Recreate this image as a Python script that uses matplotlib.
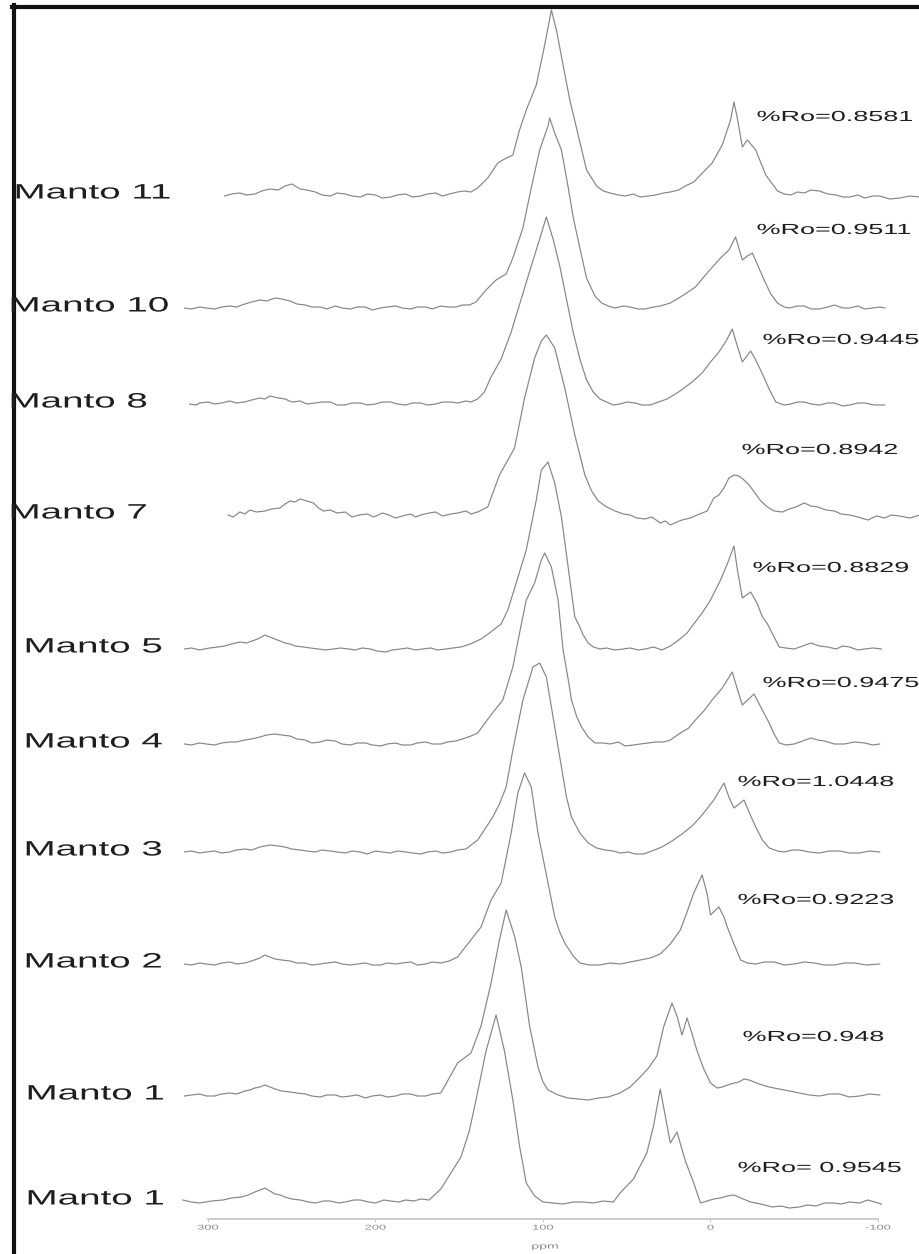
import matplotlib
matplotlib.use("Agg")
import matplotlib.pyplot as plt
from matplotlib.lines import Line2D
from matplotlib.patheffects import AbstractPathEffect
from matplotlib.transforms import Affine2D

# Образцы сверху вниз
SAMPLES = ["Manto 11", "Manto 10", "Manto 8", "Manto 7", "Manto 5",
           "Manto 4", "Manto 3", "Manto 2", "Manto 1", "Manto 1"]
RO_LABELS = ["%Ro=0.8581", "%Ro=0.9511", "%Ro=0.9445", "%Ro=0.8942",
             "%Ro=0.8829", "%Ro=0.9475", "%Ro=1.0448", "%Ro=0.9223",
             "%Ro=0.948", "%Ro= 0.9545"]

X_TICKS = [300, 200, 100, 0, -100]
X_TICK_LABELS = ["300", "200", "100", "0", "-100"]

# Спектры: пары (хим. сдвиг ppm, интенсивность отн. ед.)
PTS_M11 = [(290, -1), (286, 1), (281, 2), (277, 0), (272, 1), (268, 4), (263, 6),
           (258, 5), (254, 9), (250, 11), (245, 6), (241, 5), (236, 3), (232, 0),
           (227, -1), (223, 2), (218, 1), (214, -1), (209, -2), (205, 1), (200, 0),
           (196, -3), (191, -2), (187, 0), (182, 1), (178, -2), (173, -1), (169, 1),
           (164, 2), (160, -1), (156, 1), (151, 3), (147, 4), (143, 3), (139, 7),
           (133, 17), (127, 32), (123, 36), (118, 40), (114, 65), (110, 85),
           (104, 110), (99, 150), (95, 185), (92, 165), (88, 130), (84, 95),
           (79, 60), (74, 25), (68, 9), (64, 4), (60, 2), (55, 0), (51, -1),
           (46, 1), (42, -2), (37, -1), (33, 0), (28, 2), (24, 3), (19, 5), (15, 9),
           (10, 13), (6, 20), (-1, 32), (-7, 50), (-12, 75), (-14, 93), (-16, 77),
           (-19, 48), (-22, 55), (-27, 45), (-33, 20), (-40, 4), (-44, 1), (-48, 0),
           (-52, 3), (-56, 2), (-60, 5), (-65, 4), (-70, 1), (-75, 0), (-79, -2),
           (-83, -2), (-88, 0), (-92, -3), (-97, -1), (-101, -1), (-107, -4),
           (-113, -3), (-119, -1), (-125, -2)]

PTS_M10 = [(314, 0), (310, -1), (305, 1), (301, 0), (296, -1), (292, 1), (287, 2),
           (283, 1), (278, 4), (274, 6), (269, 8), (265, 7), (260, 10), (256, 9),
           (251, 7), (247, 4), (242, 3), (238, 1), (233, 1), (229, -1), (224, 2),
           (220, 0), (215, -1), (211, 1), (206, 1), (202, -2), (197, 0), (193, 1),
           (188, 2), (184, 0), (179, -1), (175, 1), (170, 1), (166, -1), (161, 2),
           (157, 1), (152, 1), (148, 3), (144, 3), (140, 6), (134, 18), (128, 28),
           (122, 34), (118, 50), (112, 80), (107, 120), (102, 158), (97, 182),
           (96, 190), (93, 175), (89, 158), (85, 121), (82, 91), (78, 60), (74, 30),
           (69, 12), (65, 5), (61, 2), (57, 0), (52, 2), (48, 1), (43, -1), (39, -1),
           (34, 1), (30, 2), (24, 5), (16, 13), (9, 21), (2, 35), (-6, 50), (-11, 58),
           (-15, 71), (-19, 48), (-22, 52), (-25, 55), (-32, 28), (-36, 14),
           (-40, 5), (-44, 1), (-47, 0), (-52, 2), (-56, 2), (-60, -1), (-65, -1),
           (-70, 1), (-74, 3), (-79, 0), (-83, 0), (-88, 2), (-92, -1), (-97, 0),
           (-101, 1), (-104, 0)]

PTS_M8 = [(311, 0), (307, -1), (305, 1), (300, 2), (296, 0), (292, 1), (287, 3),
          (283, 1), (278, 2), (274, 4), (269, 6), (266, 5), (263, 8), (258, 6),
          (254, 5), (250, 2), (245, 3), (241, 0), (236, 1), (232, 2), (227, 2),
          (223, -1), (218, -1), (214, 1), (209, 1), (205, -1), (200, 0), (196, 2),
          (191, 2), (187, 0), (182, -1), (178, 1), (173, 1), (169, -1), (164, 0),
          (160, 2), (155, 2), (151, 1), (146, 3), (143, 2), (139, 5), (135, 12),
          (131, 27), (125, 45), (119, 72), (113, 105), (107, 138), (102, 165),
          (98, 187), (94, 165), (90, 138), (86, 105), (82, 72), (78, 45), (74, 24),
          (70, 12), (66, 5), (62, 2), (58, -1), (54, 0), (50, 2), (45, 1), (41, -1),
          (36, -1), (31, 2), (26, 5), (19, 12), (11, 22), (5, 31), (0, 42),
          (-5, 52), (-9, 62), (-13, 75), (-16, 58), (-19, 42), (-24, 53), (-27, 44),
          (-31, 30), (-35, 15), (-39, 2), (-44, -1), (-48, 0), (-52, 2), (-56, 2),
          (-60, 0), (-65, -1), (-70, 1), (-74, 1), (-79, -2), (-83, -1), (-88, 1),
          (-92, 1), (-98, -1), (-104, -1)]

PTS_M7 = [(288, 0), (285, -2), (281, 3), (278, 1), (275, 5), (271, 3), (266, 4),
          (262, 6), (257, 7), (254, 11), (251, 14), (248, 13), (245, 16), (241, 14),
          (237, 12), (234, 7), (231, 4), (227, 5), (223, 2), (218, 3), (214, -2),
          (210, 0), (205, 1), (201, -2), (196, 2), (192, 0), (188, -3), (184, -1),
          (179, 1), (176, -2), (173, 0), (168, 2), (164, 3), (160, -1), (155, 1),
          (151, 2), (146, 4), (143, 1), (139, 3), (133, 8), (126, 40), (117, 67),
          (111, 117), (105, 157), (101, 174), (98, 180), (93, 167), (87, 127),
          (81, 80), (75, 40), (71, 24), (67, 14), (62, 8), (57, 4), (52, 1), (48, 0),
          (44, -3), (39, -4), (35, -2), (30, -8), (27, -6), (24, -10), (20, -7),
          (17, -5), (12, -3), (8, 0), (2, 4), (-2, 17), (-5, 20), (-8, 27),
          (-11, 37), (-14, 40), (-17, 39), (-20, 35), (-23, 30), (-27, 21),
          (-30, 14), (-34, 8), (-38, 4), (-43, 3), (-47, 6), (-51, 8), (-56, 12),
          (-60, 9), (-64, 8), (-69, 5), (-74, 4), (-78, 1), (-83, 0), (-88, -2),
          (-94, -5), (-99, -1), (-104, -3), (-108, 0), (-113, -1), (-119, -3),
          (-125, 0)]

PTS_M5 = [(314, 0), (310, 1), (305, -1), (302, 0), (299, 1), (294, 2), (290, 3),
          (286, 5), (281, 7), (277, 6), (272, 9), (269, 11), (266, 14), (263, 12),
          (260, 10), (257, 8), (254, 6), (251, 5), (248, 3), (243, 2), (239, 1),
          (234, 0), (230, -1), (225, 0), (221, 1), (216, 0), (212, -1), (208, 1),
          (203, 0), (199, -2), (194, -3), (190, -1), (185, 0), (181, 1), (176, -1),
          (172, 0), (167, 1), (163, -1), (158, 0), (154, 1), (149, 2), (145, 4),
          (142, 6), (137, 10), (132, 16), (125, 25), (121, 39), (116, 66),
          (110, 99), (104, 149), (101, 179), (97, 187), (93, 166), (89, 132),
          (85, 82), (81, 32), (78, 22), (76, 14), (73, 6), (70, 2), (66, 0), (62, 1),
          (57, -1), (52, 0), (48, 1), (43, -1), (39, 0), (34, 2), (29, -1), (24, 3),
          (19, 9), (14, 16), (10, 25), (5, 36), (0, 49), (-6, 69), (-10, 85),
          (-14, 103), (-16, 80), (-19, 51), (-24, 57), (-28, 45), (-31, 32),
          (-34, 25), (-38, 12), (-41, 2), (-45, 1), (-50, 0), (-55, 3), (-60, 6),
          (-65, 3), (-70, 2), (-75, 0), (-79, 3), (-83, 2), (-88, -1), (-92, 0),
          (-97, 1), (-102, 0)]

PTS_M4 = [(314, 0), (310, -1), (305, 1), (301, 0), (296, -1), (292, 1), (287, 2),
          (283, 2), (278, 4), (274, 5), (269, 7), (265, 9), (260, 10), (256, 9),
          (251, 8), (247, 5), (242, 4), (238, 1), (233, 2), (229, 4), (224, 3),
          (220, 0), (215, -1), (211, 1), (206, 1), (202, -1), (197, -2), (193, 0),
          (188, 1), (184, -1), (179, -1), (175, 1), (170, 2), (166, 0), (161, 0),
          (157, 2), (152, 3), (148, 5), (143, 8), (139, 11), (132, 27), (124, 44),
          (118, 77), (114, 111), (110, 144), (105, 161), (101, 184), (99, 191),
          (95, 177), (91, 144), (88, 94), (85, 65), (83, 44), (80, 28), (77, 17),
          (73, 7), (69, 1), (64, 1), (60, 0), (55, 2), (51, -2), (46, -1), (42, 0),
          (37, 1), (33, 2), (28, 2), (24, 4), (18, 11), (13, 16), (9, 24), (4, 33),
          (-1, 44), (-7, 56), (-13, 72), (-16, 55), (-19, 39), (-26, 50),
          (-30, 37), (-35, 21), (-38, 10), (-41, 1), (-45, -1), (-50, 0), (-55, 3),
          (-60, 6), (-64, 4), (-68, 3), (-74, 0), (-80, 0), (-86, 2), (-92, 1),
          (-97, -1), (-101, 0)]

PTS_M3 = [(314, 0), (310, 1), (305, -1), (301, 0), (296, 1), (292, -1), (287, 0),
          (283, 2), (278, 3), (274, 2), (269, 5), (266, 6), (263, 7), (258, 6),
          (254, 5), (250, 3), (245, 2), (241, 1), (236, 0), (232, 2), (227, 1),
          (223, 0), (218, -1), (214, 1), (209, 0), (205, -2), (200, 1), (196, 0),
          (191, -1), (187, 1), (182, 0), (178, -1), (173, -2), (169, 0), (164, 1),
          (160, -1), (155, 0), (151, 2), (146, 3), (139, 12), (135, 22), (130, 35),
          (126, 48), (122, 65), (118, 102), (112, 152), (106, 185), (102, 189),
          (98, 175), (94, 135), (89, 85), (86, 55), (83, 35), (78, 19), (73, 9),
          (68, 4), (63, 2), (58, 1), (54, -1), (49, 0), (45, -2), (40, -2), (35, 1),
          (29, 5), (23, 11), (17, 18), (11, 26), (6, 35), (-2, 52), (-8, 69),
          (-11, 55), (-14, 44), (-20, 52), (-23, 40), (-27, 25), (-31, 12),
          (-35, 4), (-40, 1), (-44, 0), (-49, 2), (-53, 2), (-59, 0), (-65, -1),
          (-71, 1), (-77, 1), (-83, -1), (-89, -1), (-95, 1), (-101, 0)]

PTS_M2 = [(314, 0), (310, -1), (305, 1), (301, 0), (296, -1), (292, 1), (287, 2),
          (283, 0), (278, 1), (274, 3), (269, 6), (266, 9), (263, 7), (260, 5),
          (256, 4), (251, 3), (247, 1), (242, 1), (238, -1), (233, 0), (229, 1),
          (224, 2), (220, 0), (215, -1), (211, 0), (206, 1), (202, -1), (197, -1),
          (193, 1), (188, 0), (184, 1), (179, 2), (175, -1), (170, 0), (166, 2),
          (161, 1), (156, 3), (151, 7), (144, 22), (137, 37), (131, 64), (125, 81),
          (119, 131), (115, 171), (111, 191), (107, 177), (103, 131), (97, 81),
          (93, 47), (90, 32), (87, 21), (82, 8), (78, 1), (72, -1), (66, -1),
          (60, 1), (54, 0), (48, 2), (42, 4), (36, 6), (30, 10), (24, 20), (18, 34),
          (14, 52), (10, 71), (5, 89), (2, 70), (0, 49), (-5, 57), (-8, 47),
          (-10, 37), (-14, 20), (-18, 4), (-22, 1), (-27, 0), (-32, 2), (-38, 2),
          (-44, -1), (-50, 0), (-56, 2), (-62, 1), (-68, -1), (-74, -1), (-80, 1),
          (-86, 1), (-93, -1), (-101, 0)]

PTS_M1A = [(314, 0), (310, 1), (305, 2), (301, 0), (296, 0), (292, 2), (287, 3),
           (283, 2), (278, 5), (275, 6), (272, 8), (269, 9), (266, 11), (263, 9),
           (260, 7), (256, 5), (251, 4), (247, 3), (242, 2), (238, 0), (233, -1),
           (229, 1), (224, 1), (220, -1), (215, 0), (211, 1), (206, -2), (202, 0),
           (197, 1), (193, -1), (188, 0), (184, 2), (179, 2), (175, 0), (170, 0),
           (166, 2), (161, 3), (156, 18), (151, 33), (147, 38), (143, 43),
           (137, 70), (131, 113), (126, 156), (122, 186), (117, 160), (113, 129),
           (108, 70), (103, 29), (100, 14), (97, 6), (91, 1), (85, -2), (79, -3),
           (73, -4), (67, -2), (61, -1), (54, 3), (48, 9), (42, 19), (37, 28),
           (32, 40), (28, 69), (23, 93), (20, 80), (17, 61), (14, 78), (11, 62),
           (8, 45), (4, 27), (0, 13), (-4, 8), (-7, 9), (-12, 12), (-17, 14),
           (-20, 17), (-23, 16), (-29, 12), (-35, 9), (-41, 7), (-47, 5), (-53, 3),
           (-59, 1), (-65, 0), (-71, 2), (-77, 2), (-83, -1), (-89, 0), (-95, 2),
           (-101, 1)]

PTS_M1B = [(315, 1), (310, -1), (305, -2), (298, 0), (291, 1), (286, 3), (280, 4),
           (276, 6), (272, 9), (269, 11), (266, 13), (263, 10), (260, 7), (257, 6),
           (254, 4), (250, 2), (245, 1), (240, -1), (236, -2), (231, 0), (227, 0),
           (222, -2), (218, -1), (213, 1), (209, 1), (204, -1), (200, -2), (195, 1),
           (191, 0), (186, -1), (182, 1), (177, 0), (173, 2), (168, 1), (161, 12),
           (155, 28), (149, 44), (144, 70), (140, 101), (134, 150), (128, 186),
           (123, 150), (118, 101), (114, 55), (110, 18), (105, 5), (100, -1),
           (94, -2), (88, -3), (82, -1), (76, -1), (70, -2), (64, 0), (58, -1),
           (54, 8), (46, 22), (38, 48), (34, 75), (30, 112), (27, 85), (24, 58),
           (20, 69), (15, 40), (10, 18), (6, -2), (2, 0), (-2, 2), (-6, 3), (-10, 5),
           (-14, 6), (-18, 3), (-24, -1), (-30, -3), (-37, -6), (-42, -5), (-47, -7),
           (-53, -6), (-58, -4), (-63, -5), (-68, -2), (-73, -2), (-78, -3),
           (-83, -1), (-89, -2), (-94, 1), (-98, -1), (-102, -3)]

SPECTRA = [PTS_M11, PTS_M10, PTS_M8, PTS_M7, PTS_M5,
           PTS_M4, PTS_M3, PTS_M2, PTS_M1A, PTS_M1B]

# Раскладка (пиксели исходной картинки 920x1254)
W, H = 920, 1254
BASELINE_PX = [195, 308, 404, 515, 649, 744, 852, 964, 1096, 1201]
LABEL_X_PX = [15, 10, 10, 10, 25, 25, 25, 25, 27, 27]
RO_POS_PX = [(757, 117), (757, 230), (763, 340), (742, 450), (753, 568),
             (763, 683), (738, 782), (738, 900), (743, 1037), (738, 1168)]
AXIS_Y_PX = 1219
STRETCH = 1.85  # текст на исходнике растянут по горизонтали

LINE_COLOR = "#858585"
TEXT_COLOR = "#1e1e1e"


class StretchX(AbstractPathEffect):
    """Растягивает глиф текста по горизонтали относительно точки привязки."""

    def __init__(self, sx, anchor="left"):
        super().__init__()
        self.sx = sx
        self.anchor = anchor

    def draw_path(self, renderer, gc, tpath, affine, rgbFace=None):
        ext = tpath.get_extents(affine)
        if self.anchor == "center":
            x0 = 0.5 * (ext.x0 + ext.x1)
        else:
            x0 = ext.x0
        tr = affine + Affine2D().translate(-x0, 0).scale(self.sx, 1).translate(x0, 0)
        renderer.draw_path(gc, tpath, tr, rgbFace)


plt.rcParams["font.family"] = ["Liberation Sans", "DejaVu Sans"]

fig = plt.figure(figsize=(W / 100, H / 100), dpi=100)
ax = fig.add_axes([0, 0, 1, 1])

# ppm -> пиксель: 300 ppm на x=208, -100 ppm на x=878
px_per_ppm = (878 - 208) / 400
ax.set_xlim(300 + 208 / px_per_ppm, 300 - (W - 208) / px_per_ppm)
ax.set_ylim(0, H)

for pts, base in zip(SPECTRA, BASELINE_PX):
    off = H - base
    ppm, inten = zip(*pts)
    ax.plot(ppm, [v + off for v in inten], color=LINE_COLOR, linewidth=0.85,
            solid_joinstyle="round")

# Ось ppm
for side in ["top", "right", "left"]:
    ax.spines[side].set_visible(False)
ax.spines["bottom"].set_position(("data", H - AXIS_Y_PX))
ax.spines["bottom"].set_bounds(300, -100)
ax.spines["bottom"].set_color("#c4c4c4")
ax.spines["bottom"].set_linewidth(1.2)
ax.set_yticks([])
ax.set_xticks(X_TICKS)
ax.set_xticklabels(X_TICK_LABELS)
ax.tick_params(axis="x", length=2.5, width=0.6, color="#bbbbbb",
               labelsize=5, labelcolor="#8a8a8a", pad=1.5)
for lbl in ax.get_xticklabels():
    lbl.set_path_effects([StretchX(STRETCH, "center")])
ax.patch.set_visible(False)

fig.text(545 / W, 1 - 1247 / H, "ppm", ha="center", va="center", fontsize=5.5,
         color="#8a8a8a", path_effects=[StretchX(STRETCH, "center")])

# Подписи образцов и %Ro
for name, base, lx in zip(SAMPLES, BASELINE_PX, LABEL_X_PX):
    fig.text(lx / W, 1 - (base - 2) / H, name, ha="left", va="center",
             fontsize=15, color=TEXT_COLOR, path_effects=[StretchX(STRETCH)])

for text, (rx, ry) in zip(RO_LABELS, RO_POS_PX):
    fig.text(rx / W, 1 - ry / H, text, ha="left", va="center",
             fontsize=10.5, color=TEXT_COLOR, path_effects=[StretchX(STRETCH)])

# Толстая рамка слева и сверху
fig.add_artist(Line2D([14 / W, 14 / W], [0, 1 - 5 / H], color="#111111",
                      linewidth=3.0, transform=fig.transFigure))
fig.add_artist(Line2D([12 / W, 1], [1 - 7 / H, 1 - 7 / H], color="#111111",
                      linewidth=3.0, transform=fig.transFigure))

fig.savefig("out.png", dpi=100, facecolor="white")
